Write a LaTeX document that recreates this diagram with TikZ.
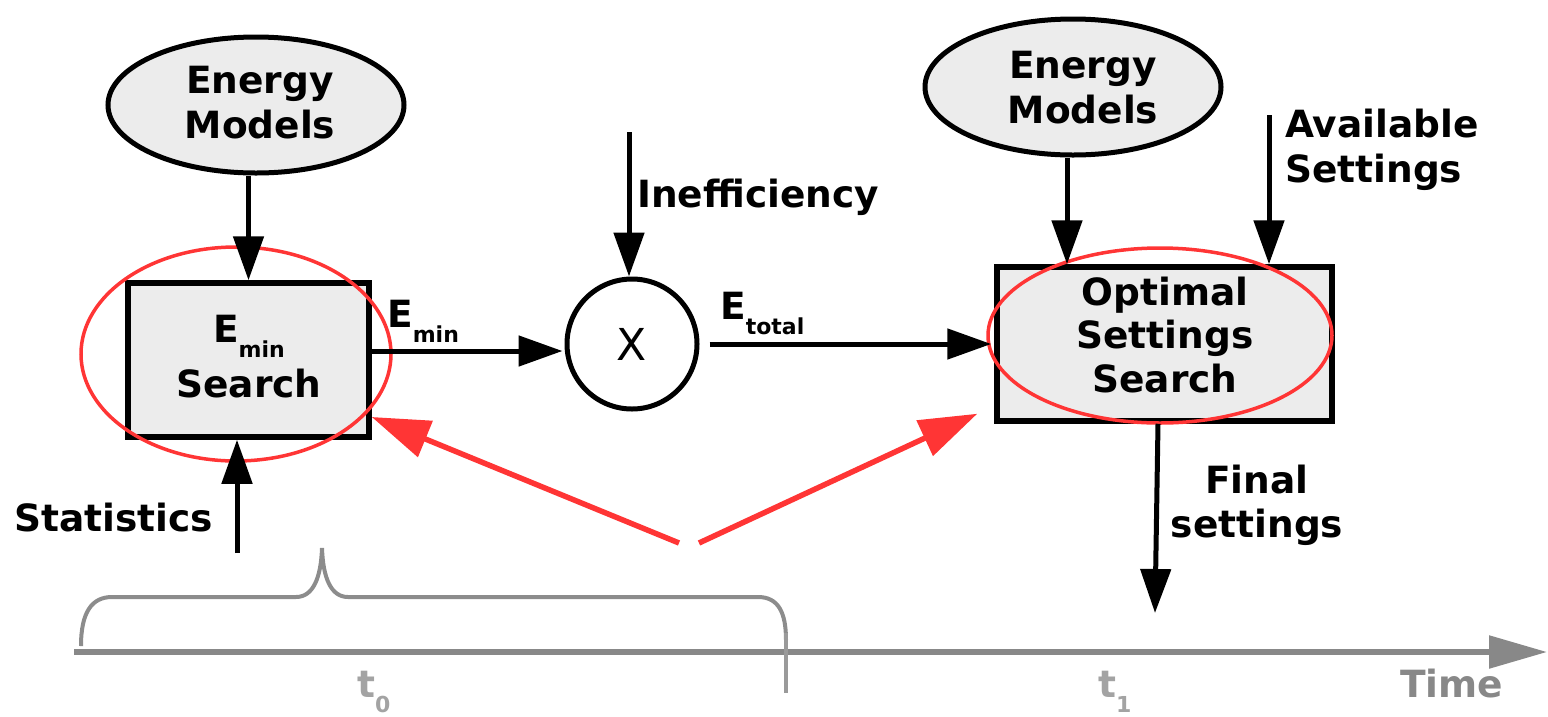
\documentclass[tikz,border=0pt]{standalone}
\usepackage{fontspec}
\setmainfont{DejaVu Sans}
\usetikzlibrary{arrows.meta,shapes.geometric}
\definecolor{boxgray}{HTML}{ECECEC}
\definecolor{redc}{HTML}{FF3535}
\definecolor{axisgray}{HTML}{888888}
\definecolor{bracegray}{HTML}{8C8C8C}
\definecolor{tickgray}{HTML}{9A9A9A}
\definecolor{lightt}{HTML}{A3A3A3}
\newcommand\subs[1]{\raisebox{-15pt}{\fontsize{22}{22}\selectfont #1}}
\begin{document}
\begin{tikzpicture}[x=1pt,y=-1pt,
  lbl/.style={font=\fontsize{37.5}{45}\selectfont\bfseries, inner sep=0pt},
  model/.style={ellipse, draw, line width=5pt, fill=boxgray, minimum width=296pt, minimum height=136pt, inner sep=0pt},
  stage/.style={rectangle, draw, line width=5.5pt, fill=boxgray, inner sep=0pt},
  arr/.style={line width=5pt, -{Triangle[length=44pt,width=30pt]}},
  redarr/.style={color=redc, line width=5.5pt, -{Triangle[length=58pt,width=38pt]}},
  hilite/.style={ellipse, draw=redc, line width=3.5pt, inner sep=0pt},
]
\useasboundingbox (0,0) rectangle (1548,716);

% shapes
\node[model] (em1) at (256,105) {};
\node[lbl, align=center] (em1t) at (260,103) {Energy\\Models};
\node[model] (em2) at (1073,87) {};
\node[lbl, align=center] (em2t) at (1083,88) {Energy\\Models};
\node[stage, minimum width=241pt, minimum height=154pt] (b1) at (248.5,360) {};
\node[lbl, align=center] (b1t) at (249,356.5) {E\subs{min}\\[10pt]Search};
\node[stage, minimum width=335pt, minimum height=154pt] (b2) at (1164.5,344) {};
\node[lbl, align=center, font=\fontsize{37.5}{43.5}\selectfont\bfseries] (b2t) at (1165,335) {Optimal\\Settings\\Search};
\node[circle, draw, line width=5pt, minimum size=130pt, inner sep=0pt, font=\fontsize{44}{44}\selectfont] (cx) at (632,344) {X};

% red highlights
\node[hilite, minimum width=310pt, minimum height=214pt] (h1) at (236,354) {};
\node[hilite, minimum width=344pt, minimum height=175pt] (h2) at (1160,335.5) {};

% labels
\node[lbl, anchor=base west] (eminl) at (387,327) {E\subs{min}};
\node[lbl, anchor=base west] (etotl) at (720,319) {E\subs{total}};
\node[lbl, anchor=base west] (ineffl) at (637,207) {Inefficiency};
\node[lbl, anchor=base east] (statl) at (213,531) {Statistics};
\node[lbl, align=left, anchor=north west] (availl) at (1285,109) {Available\\Settings};
\node[lbl, align=center, anchor=north, font=\fontsize{37.5}{44}\selectfont\bfseries] (finall) at (1257,465) {Final\\settings};
\node[lbl, anchor=base west, text=axisgray] (timel) at (1400,697) {Time};
\node[lbl, anchor=base west, text=lightt] (t0l) at (357,697) {t\subs{0}};
\node[lbl, anchor=base west, text=lightt] (t1l) at (1098,697) {t\subs{1}};

% free ends
\coordinate (statsrc) at (237,553);
\coordinate (ineffsrc) at (629,132);
\coordinate (availsrc) at (1269,115);
\coordinate (finaldst) at (1155,613);
\coordinate (redsrcl) at (679,543);
\coordinate (redsrcr) at (699,543);
\coordinate (taxis0) at (74,652);
\coordinate (taxis1) at (1547,652);
\coordinate (tick0) at (786,633);
\coordinate (tick1) at (786,693);
\coordinate (b2in) at ([xshift=-97.5pt]b2.north);
\coordinate (b1out) at ([yshift=9pt]b1.east);

% connectors
\draw[arr] (em1.south -| b1.north) -- (b1.north);
\draw[arr] (statsrc) -- (statsrc |- b1.south);
\draw[arr, shorten >=2pt] (b1out) -- (b1out -| cx.west);
\draw[arr, shorten >=3pt] ([xshift=10pt]cx.east) -- (b2.west);
\draw[arr] (ineffsrc) -- (ineffsrc |- cx.north);
\draw[arr] (b2in |- em2.south) -- (b2in);
\draw[arr] (availsrc) -- (availsrc |- b2.north);
\draw[arr] ([xshift=-6.5pt]b2.south) -- (finaldst);
\draw[redarr] (redsrcl) -- ([yshift=-57pt]b1.east);
\draw[redarr] (redsrcr) -- ([xshift=-17pt,yshift=10pt]b2.south west);

% time axis
\draw[axisgray, line width=5.5pt, -{Triangle[length=58pt,width=32pt]}] (taxis0) -- (taxis1);
\draw[bracegray, line width=4pt] (81,646) .. controls (81,612) and (92,597) .. (112,597) -- (296,597) .. controls (313,597) and (321,578) .. (322,548) .. controls (323,578) and (331,597) .. (348,597) -- (758,597) .. controls (778,597) and (786,612) .. (786,640);
\draw[tickgray, line width=4pt] (tick0) -- (tick1);
\end{tikzpicture}
\end{document}
